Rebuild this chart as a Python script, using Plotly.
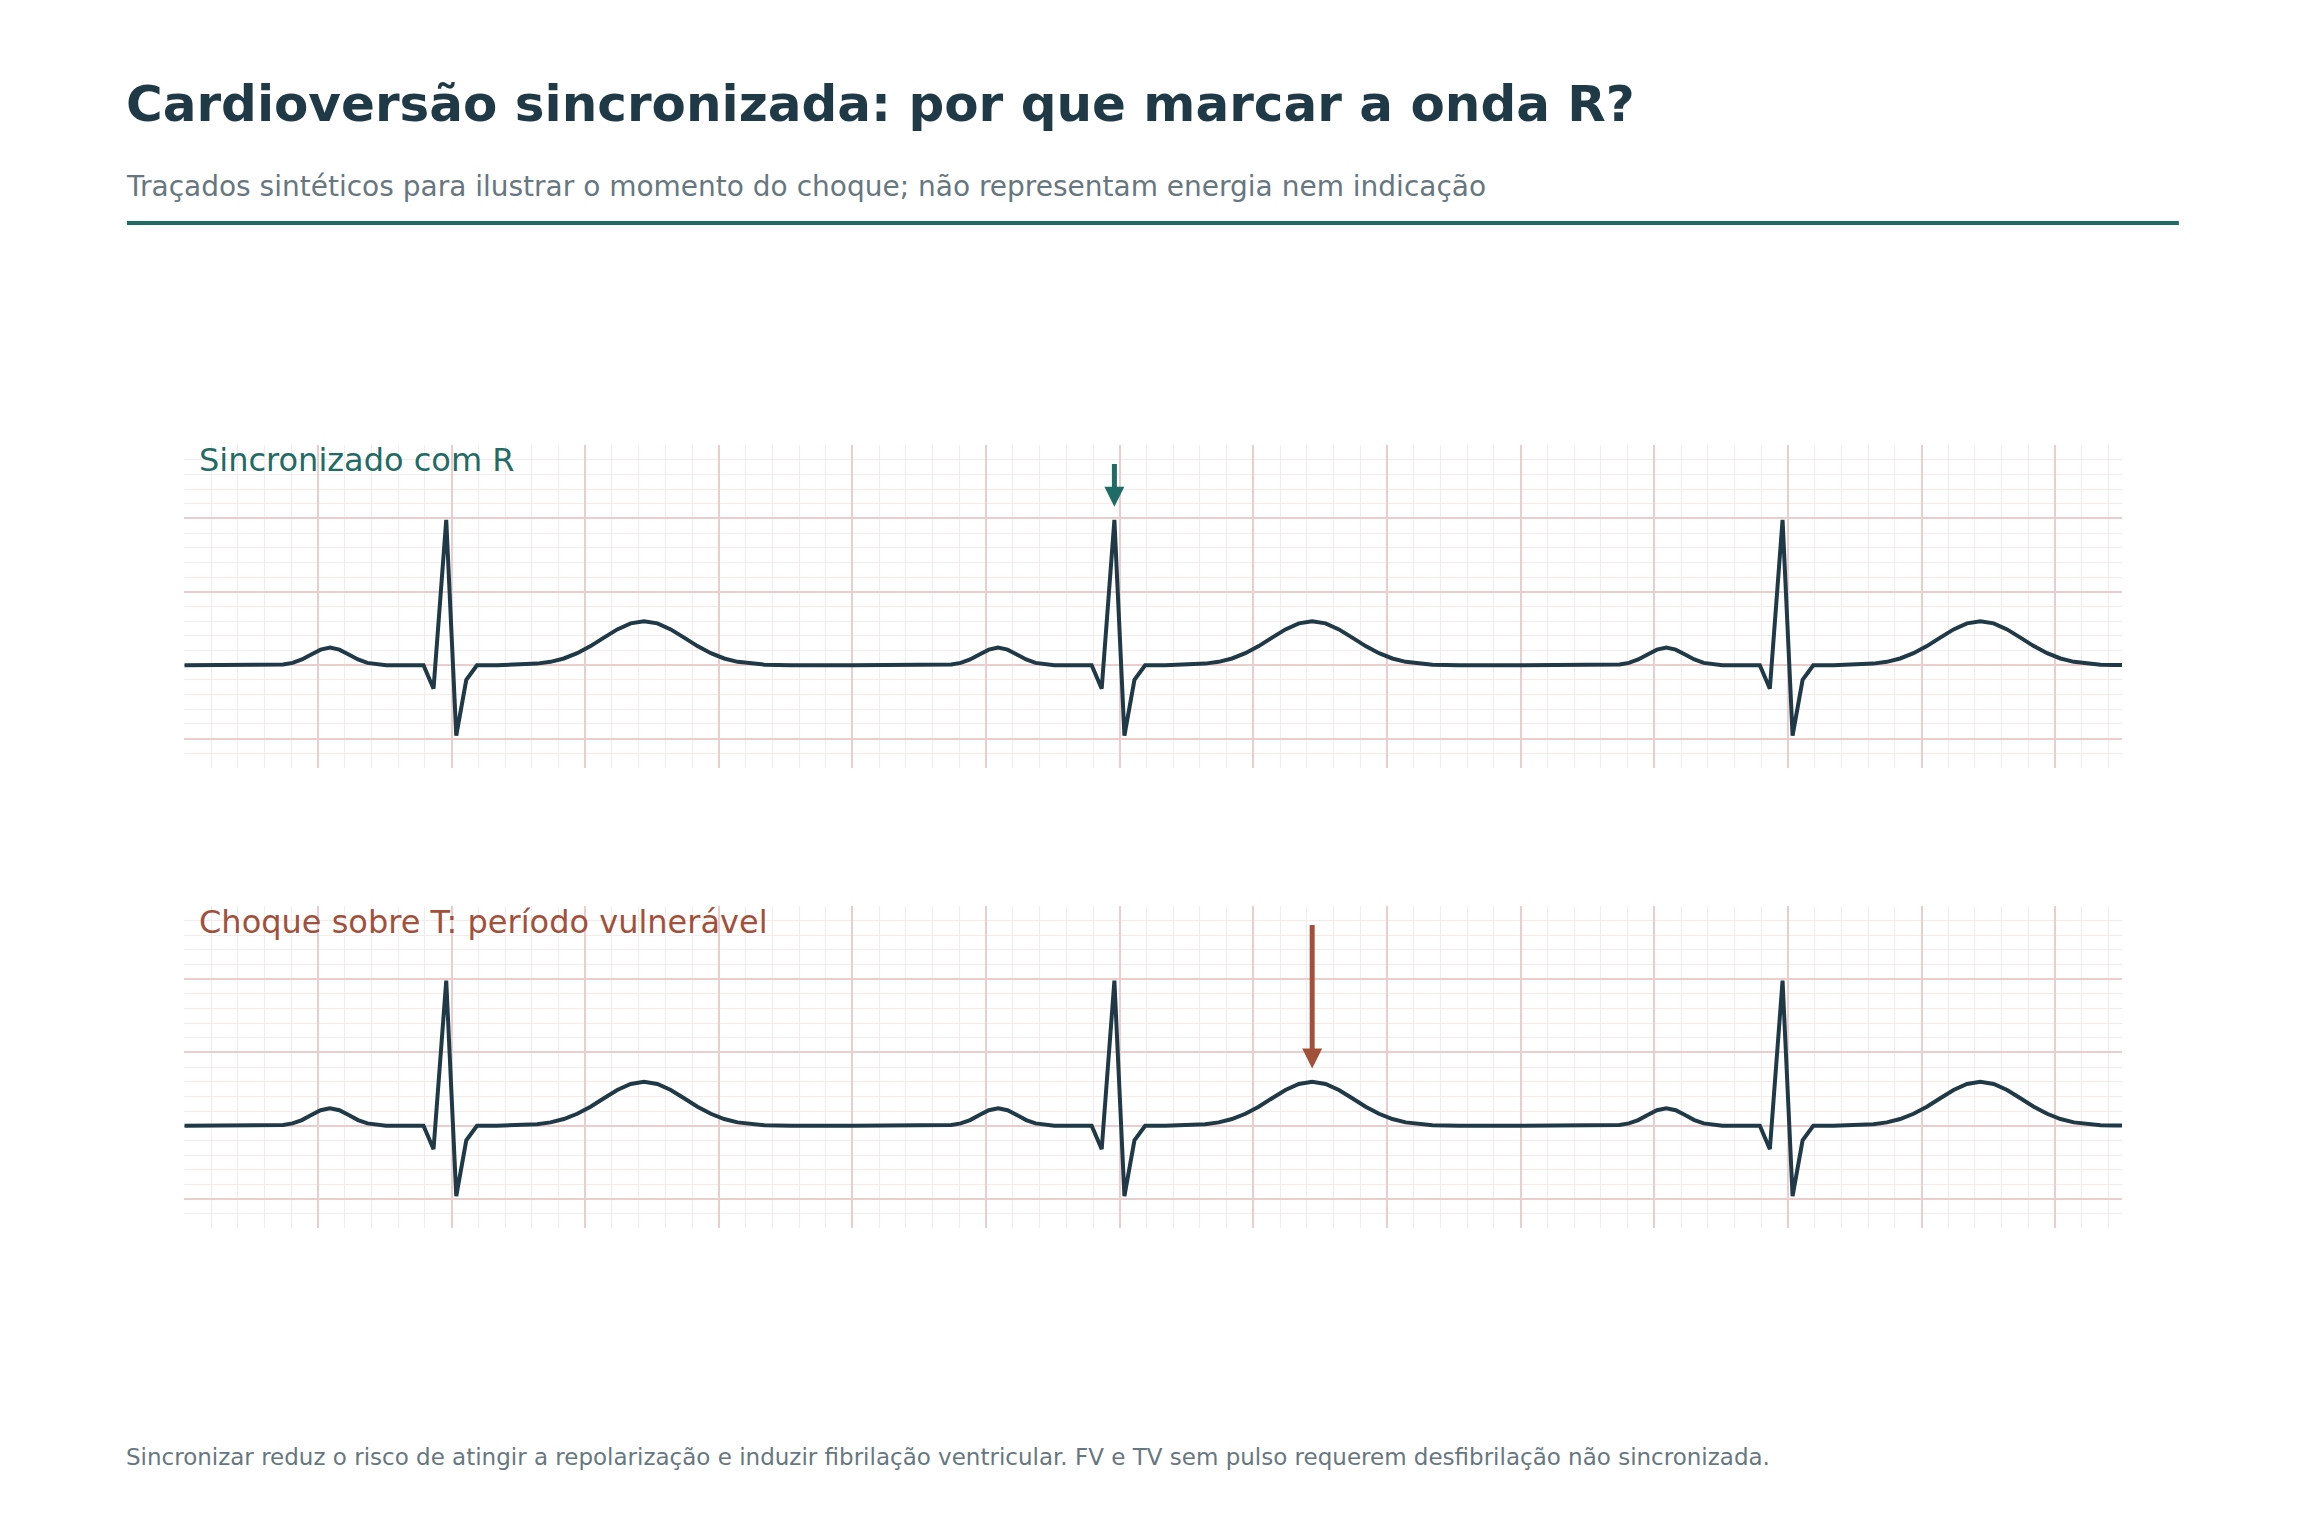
import plotly.graph_objects as go

# one heartbeat (seconds from beat start, mV)
beat_t = [0.0, 0.134, 0.148, 0.162, 0.176, 0.190, 0.204, 0.218, 0.232, 0.246, 0.260, 0.274, 0.288, 0.302,
          0.358, 0.373, 0.392, 0.407, 0.422, 0.438,
          0.468, 0.488, 0.508, 0.528, 0.548, 0.568, 0.588, 0.608, 0.628, 0.648, 0.668, 0.688,
          0.708, 0.728, 0.748, 0.768, 0.788, 0.808, 0.828, 0.848, 0.868, 0.888, 0.908, 1.0]
beat_mv = [0.0, 0.0, 0.005, 0.016, 0.039, 0.073, 0.106, 0.12, 0.106, 0.073, 0.039, 0.016, 0.005, 0.0,
           0.0, -0.16, 0.99, -0.48, -0.1, 0.0,
           0.0, 0.002, 0.004, 0.011, 0.023, 0.046, 0.082, 0.130, 0.188, 0.244, 0.285, 0.300,
           0.285, 0.244, 0.188, 0.130, 0.082, 0.046, 0.023, 0.011, 0.004, 0.002, 0.0, 0.0]
beat_starts = [0.0, 1.0, 2.0]

panel_titles = ["Sincronizado com R", "Choque sobre T: período vulnerável"]
shock_t = [1.392, 1.688]
shock_tip = [1.08, 0.39]
shock_tail = [1.38, 1.38]

title = "Cardioversão sincronizada: por que marcar a onda R?"
subtitle = "Traçados sintéticos para ilustrar o momento do choque; não representam energia nem indicação"
footer = ("Sincronizar reduz o risco de atingir a repolarização e induzir fibrilação ventricular. "
          "FV e TV sem pulso requerem desfibrilação não sincronizada.")

ink = "#1f3a46"
teal = "#1f6b66"
rust = "#a3503b"
grey = "#67777f"
font = "DejaVu Sans"

t_all, mv_all = [], []
for s in beat_starts:
    t_all += [s + t for t in beat_t]
    mv_all += beat_mv

fig = go.Figure()
for i in range(2):
    fig.add_trace(go.Scatter(x=t_all, y=mv_all, mode="lines",
                             line=dict(color=ink, width=4),
                             xaxis="x" if i == 0 else "x2",
                             yaxis="y" if i == 0 else "y2",
                             showlegend=False, hoverinfo="skip"))

xax = dict(range=[0, 2.9], domain=[0.08, 0.921], tick0=0, dtick=0.2,
           showgrid=True, gridcolor="#ebcdcd", gridwidth=1.5, zeroline=False,
           showticklabels=False, ticks="", showline=False, fixedrange=True,
           minor=dict(dtick=0.04, showgrid=True, gridcolor="#f5ebeb", gridwidth=1))
yax = dict(range=[-0.7, 1.5], tick0=0, dtick=0.5,
           showgrid=True, gridcolor="#ebcdcd", gridwidth=1.5, zeroline=False,
           showticklabels=False, ticks="", showline=False, fixedrange=True,
           minor=dict(dtick=0.1, showgrid=True, gridcolor="#f5ebeb", gridwidth=1))

fig.update_layout(
    width=2304, height=1536,
    margin=dict(l=0, r=0, t=0, b=0),
    paper_bgcolor="white", plot_bgcolor="white",
    font=dict(family=font, color=ink),
    xaxis=dict(xax, anchor="y"),
    yaxis=dict(yax, domain=[0.5, 0.7103], anchor="x"),
    xaxis2=dict(xax, anchor="y2"),
    yaxis2=dict(yax, domain=[0.2003, 0.4102], anchor="x2"),
)

colors = [teal, rust]
label_y = [0.7002, 0.3999]
for i in range(2):
    fig.add_annotation(x=0.0855, y=label_y[i], xref="paper", yref="paper",
                       text=panel_titles[i], showarrow=False, xanchor="left", yanchor="middle",
                       font=dict(family=font, size=32, color=colors[i]))
    xr = "x" if i == 0 else "x2"
    yr = "y" if i == 0 else "y2"
    fig.add_annotation(x=shock_t[i], y=shock_tip[i], ax=shock_t[i], ay=shock_tail[i],
                       xref=xr, yref=yr, axref=xr, ayref=yr, text="",
                       showarrow=True, arrowhead=2, arrowsize=0.8, arrowwidth=5,
                       arrowcolor=colors[i], standoff=0)

fig.add_annotation(x=0.0538, y=0.9323, xref="paper", yref="paper", text="<b>" + title + "</b>",
                   showarrow=False, xanchor="left", yanchor="middle",
                   font=dict(family=font, size=50, color=ink))
fig.add_annotation(x=0.0538, y=0.8789, xref="paper", yref="paper", text=subtitle,
                   showarrow=False, xanchor="left", yanchor="middle",
                   font=dict(family=font, size=28, color=grey))
fig.add_annotation(x=0.0538, y=0.0512, xref="paper", yref="paper", text=footer,
                   showarrow=False, xanchor="left", yanchor="middle",
                   font=dict(family=font, size=23, color=grey))
fig.add_shape(type="line", xref="paper", yref="paper", x0=0.0551, x1=0.9457, y0=0.8548, y1=0.8548,
              line=dict(color=teal, width=4))

fig.write_html("out.html", config={"displayModeBar": False},
               post_script="document.body.style.margin = '0';")
